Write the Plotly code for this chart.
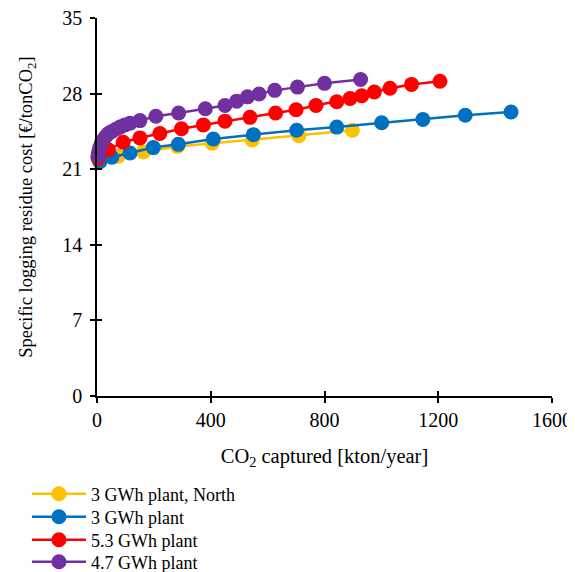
import plotly.graph_objects as go

# 3 GWh plant, North
north_x = [15, 75, 163, 283, 405, 546, 710, 898]
north_y = [21.9, 22.2, 22.6, 23.1, 23.4, 23.7, 24.1, 24.6]

# 3 GWh plant
g3_x = [10, 52, 116, 198, 286, 409, 550, 702, 843, 1001, 1146, 1295, 1456]
g3_y = [21.7, 22.1, 22.5, 23.0, 23.3, 23.8, 24.2, 24.6, 24.9, 25.3, 25.6, 26.0, 26.3]

# 5.3 GWh plant
g53_x = [4, 40, 92, 151, 221, 297, 374, 450, 538, 628, 700, 770, 843, 890, 931, 975, 1030, 1106, 1206]
g53_y = [22.0, 22.8, 23.5, 23.9, 24.3, 24.75, 25.1, 25.45, 25.8, 26.2, 26.5, 26.9, 27.25, 27.55, 27.8, 28.15, 28.5, 28.85, 29.15]

# 4.7 GWh plant
g47_x = [3, 6, 10, 15, 22, 30, 40, 52, 66, 81, 98, 116, 151, 207, 287, 381, 450, 491, 529, 570, 625, 705, 800, 927]
g47_y = [22.2, 22.6, 23.0, 23.4, 23.7, 24.0, 24.3, 24.5, 24.7, 24.9, 25.1, 25.25, 25.5, 25.9, 26.2, 26.6, 26.9, 27.3, 27.7, 27.96, 28.3, 28.6, 28.95, 29.3]

x_ticks = [0, 400, 800, 1200, 1600]
y_ticks = [0, 7, 14, 21, 28, 35]

series = [
    ("3 GWh plant, North", north_x, north_y, "#FFC000"),
    ("3 GWh plant", g3_x, g3_y, "#0070C0"),
    ("5.3 GWh plant", g53_x, g53_y, "#FF0000"),
    ("4.7 GWh plant", g47_x, g47_y, "#7030A0"),
]
legend_ids = ["legend", "legend2", "legend3", "legend4"]
legend_ys = [-0.2593, -0.3201, -0.3810, -0.4392]

fig = go.Figure()
for (name, xs, ys, col), lid in zip(series, legend_ids):
    fig.add_trace(go.Scatter(
        x=xs, y=ys, name=name, mode="lines+markers",
        line=dict(color=col, width=2.5),
        marker=dict(color=col, size=15),
        cliponaxis=False, legend=lid,
    ))

# invisible trace to draw inside ticks on overlay axes
fig.add_trace(go.Scatter(x=[None], y=[None], xaxis="x2", yaxis="y2",
                         showlegend=False, hoverinfo="skip"))

font = "Liberation Serif, Times New Roman, serif"
tickfont = dict(family=font, size=20, color="black")
legend_common = dict(x=-0.1539, xanchor="left", yanchor="middle",
                     font=dict(family=font, size=18, color="black"),
                     bgcolor="rgba(0,0,0,0)", itemwidth=54)
legends = {}
for lid, ly in zip(legend_ids, legend_ys):
    legends[lid] = dict(legend_common, y=ly)

fig.update_layout(
    width=567, height=564,
    margin=dict(l=89, r=23, t=10, b=176, autoexpand=False),
    paper_bgcolor="white", plot_bgcolor="white",
    font=dict(family=font, size=18, color="black"),
    xaxis=dict(range=[0, 1600], tickvals=x_ticks, ticks="outside", ticklen=5,
               tickwidth=1.5, tickcolor="black", showline=True, linecolor="black",
               linewidth=1.5, showgrid=False, zeroline=False, automargin=False,
               tickfont=tickfont, ticklabeloverflow="allow",
               title=dict(text="CO<sub>2</sub> captured [kton/year]", standoff=19,
                          font=dict(family=font, size=20.5))),
    yaxis=dict(range=[0, 35], tickvals=y_ticks, ticks="outside", ticklen=5,
               tickwidth=1.5, tickcolor="black", showline=True, linecolor="black",
               linewidth=1.5, showgrid=False, zeroline=False, automargin=False,
               tickfont=tickfont, ticklabelstandoff=4, ticklabeloverflow="allow",
               title=dict(text="Specific logging residue cost [€/tonCO<sub>2</sub>]", standoff=25,
                          font=dict(family=font, size=18.5))),
    xaxis2=dict(range=[0, 1600], tickvals=x_ticks, ticks="inside", ticklen=5,
                tickwidth=1.5, tickcolor="black", showticklabels=False,
                overlaying="x", side="bottom", showgrid=False, zeroline=False),
    yaxis2=dict(range=[0, 35], tickvals=y_ticks, ticks="inside", ticklen=5,
                tickwidth=1.5, tickcolor="black", showticklabels=False,
                overlaying="y", side="left", showgrid=False, zeroline=False),
    showlegend=True,
    **legends,
)

fig.write_html("out.html")
